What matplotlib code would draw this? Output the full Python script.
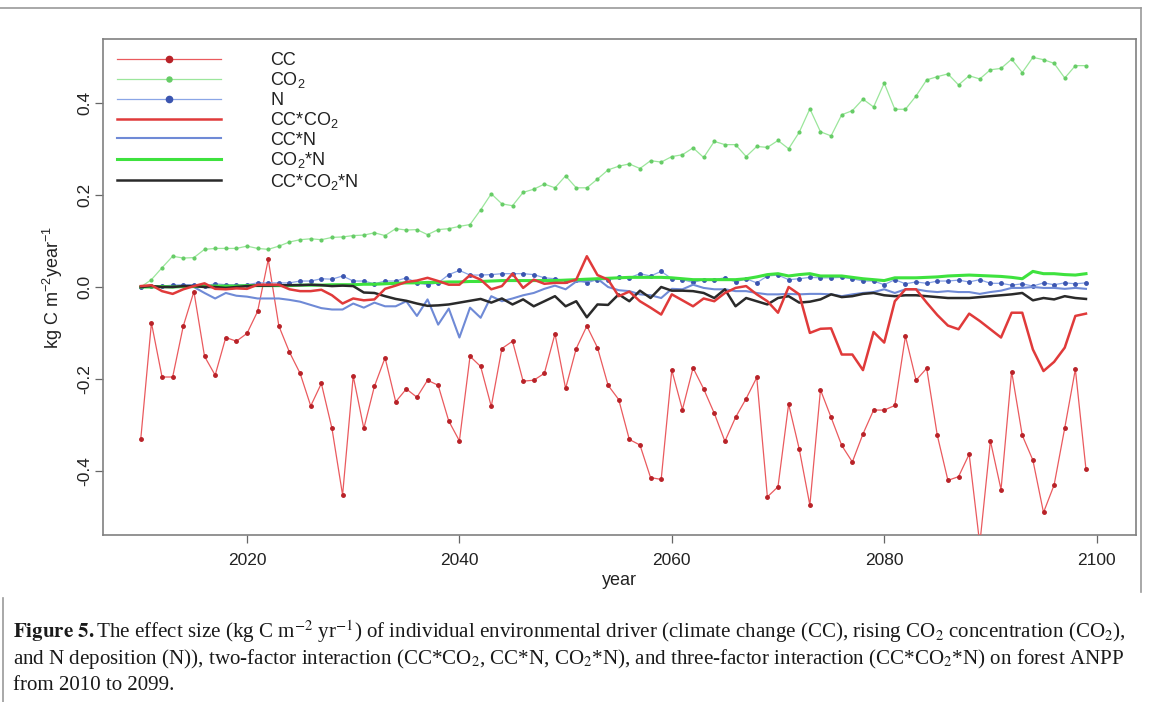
import numpy as np
import matplotlib
matplotlib.use("Agg")
import matplotlib.pyplot as plt
from matplotlib.lines import Line2D

years = list(range(2010, 2100))

cc = [-0.330, -0.078, -0.196, -0.196, -0.085, -0.010, -0.151, -0.192, -0.110, -0.118,
      -0.101, -0.053, 0.060, -0.085, -0.142, -0.188, -0.259, -0.210, -0.308, -0.453,
      -0.194, -0.308, -0.216, -0.154, -0.250, -0.222, -0.240, -0.203, -0.214, -0.292,
      -0.335, -0.151, -0.173, -0.260, -0.134, -0.118, -0.205, -0.203, -0.188, -0.102,
      -0.221, -0.134, -0.085, -0.132, -0.214, -0.245, -0.332, -0.344, -0.415, -0.419,
      -0.181, -0.267, -0.176, -0.222, -0.275, -0.336, -0.284, -0.243, -0.197, -0.457,
      -0.435, -0.255, -0.353, -0.475, -0.224, -0.284, -0.345, -0.381, -0.320, -0.268,
      -0.268, -0.258, -0.107, -0.203, -0.177, -0.323, -0.421, -0.413, -0.364, -0.560,
      -0.335, -0.441, -0.184, -0.323, -0.377, -0.491, -0.431, -0.307, -0.179, -0.397]

co2 = [0.000, 0.016, 0.042, 0.067, 0.063, 0.064, 0.082, 0.084, 0.084, 0.084,
       0.089, 0.084, 0.082, 0.089, 0.098, 0.103, 0.105, 0.103, 0.108, 0.109,
       0.112, 0.113, 0.118, 0.112, 0.127, 0.124, 0.125, 0.114, 0.125, 0.127,
       0.132, 0.136, 0.168, 0.203, 0.181, 0.177, 0.206, 0.213, 0.224, 0.216,
       0.242, 0.216, 0.216, 0.235, 0.255, 0.263, 0.268, 0.258, 0.275, 0.272,
       0.284, 0.288, 0.303, 0.282, 0.317, 0.310, 0.310, 0.284, 0.306, 0.304,
       0.319, 0.301, 0.337, 0.388, 0.338, 0.329, 0.375, 0.384, 0.409, 0.392,
       0.444, 0.387, 0.387, 0.416, 0.451, 0.458, 0.464, 0.440, 0.460, 0.453,
       0.473, 0.476, 0.496, 0.467, 0.500, 0.495, 0.487, 0.455, 0.482, 0.482]

n_dep = [0.000, 0.002, 0.002, 0.004, 0.005, 0.005, 0.002, 0.007, 0.005, 0.005,
         0.005, 0.009, 0.009, 0.009, 0.009, 0.013, 0.013, 0.018, 0.017, 0.024,
         0.013, 0.013, 0.007, 0.013, 0.013, 0.020, 0.009, 0.005, 0.009, 0.027,
         0.036, 0.026, 0.026, 0.027, 0.029, 0.029, 0.029, 0.027, 0.020, 0.018,
         0.014, 0.015, 0.009, 0.016, 0.016, 0.021, 0.020, 0.029, 0.024, 0.034,
         0.018, 0.016, 0.010, 0.016, 0.016, 0.020, 0.011, 0.018, 0.009, 0.024,
         0.026, 0.016, 0.018, 0.021, 0.020, 0.020, 0.021, 0.018, 0.013, 0.013,
         0.005, 0.016, 0.007, 0.011, 0.008, 0.013, 0.013, 0.015, 0.011, 0.016,
         0.008, 0.008, 0.004, 0.007, 0.002, 0.009, 0.005, 0.009, 0.007, 0.009]

cc_co2 = [0.002, 0.004, -0.009, -0.015, -0.005, 0.002, 0.008, -0.004, -0.005, -0.003,
          -0.004, 0.005, 0.005, 0.005, -0.005, -0.009, -0.009, -0.006, -0.018, -0.036,
          -0.025, -0.029, -0.027, -0.004, 0.003, 0.011, 0.014, 0.020, 0.013, 0.005,
          0.005, 0.026, 0.016, -0.005, 0.002, 0.029, -0.002, 0.016, 0.007, 0.009,
          0.009, 0.016, 0.067, 0.026, 0.016, -0.020, -0.010, -0.031, -0.045, -0.060,
          -0.016, -0.029, -0.042, -0.025, -0.031, -0.013, -0.002, 0.002, -0.016, -0.031,
          -0.056, 0.000, -0.016, -0.100, -0.091, -0.090, -0.147, -0.147, -0.181, -0.098,
          -0.121, -0.031, -0.005, -0.005, -0.034, -0.061, -0.084, -0.092, -0.058, -0.074,
          -0.092, -0.110, -0.056, -0.056, -0.136, -0.183, -0.163, -0.132, -0.063, -0.058]

cc_n = [0.000, 0.000, 0.000, 0.000, 0.000, 0.000, -0.013, -0.025, -0.013, -0.019,
        -0.021, -0.025, -0.025, -0.025, -0.028, -0.032, -0.039, -0.046, -0.049, -0.049,
        -0.036, -0.045, -0.034, -0.042, -0.042, -0.031, -0.063, -0.027, -0.082, -0.047,
        -0.110, -0.045, -0.067, -0.020, -0.031, -0.025, -0.018, -0.013, -0.004, 0.003,
        -0.005, 0.012, 0.013, 0.018, 0.000, -0.007, -0.009, -0.016, -0.018, -0.024,
        -0.004, -0.005, 0.005, -0.002, -0.005, -0.005, -0.009, -0.009, -0.013, -0.016,
        -0.016, -0.015, -0.016, -0.015, -0.015, -0.016, -0.020, -0.016, -0.013, -0.011,
        -0.005, -0.013, -0.005, -0.005, -0.009, -0.011, -0.009, -0.011, -0.011, -0.015,
        -0.011, -0.008, -0.002, -0.002, 0.000, -0.002, -0.002, -0.004, -0.002, -0.004]

co2_n = [0.000, 0.000, 0.001, 0.000, 0.001, 0.001, 0.002, 0.002, 0.002, 0.002,
         0.003, 0.003, 0.003, 0.003, 0.003, 0.004, 0.004, 0.004, 0.005, 0.005,
         0.005, 0.006, 0.006, 0.007, 0.008, 0.009, 0.009, 0.010, 0.010, 0.011,
         0.011, 0.012, 0.012, 0.013, 0.014, 0.014, 0.014, 0.014, 0.014, 0.014,
         0.015, 0.016, 0.017, 0.018, 0.019, 0.020, 0.021, 0.021, 0.021, 0.021,
         0.020, 0.018, 0.016, 0.016, 0.016, 0.016, 0.016, 0.018, 0.022, 0.027,
         0.029, 0.024, 0.027, 0.029, 0.024, 0.024, 0.024, 0.021, 0.018, 0.016,
         0.014, 0.020, 0.020, 0.020, 0.021, 0.022, 0.024, 0.025, 0.026, 0.025,
         0.024, 0.023, 0.021, 0.018, 0.034, 0.029, 0.029, 0.027, 0.026, 0.029]

cc_co2_n = [0.000, 0.002, 0.000, 0.000, 0.002, 0.002, 0.000, 0.000, -0.002, 0.000,
            0.002, 0.003, 0.003, 0.004, 0.004, 0.004, 0.005, 0.004, 0.002, 0.003,
            0.002, -0.012, -0.013, -0.020, -0.026, -0.030, -0.036, -0.041, -0.040, -0.038,
            -0.034, -0.030, -0.026, -0.034, -0.025, -0.038, -0.027, -0.042, -0.031, -0.020,
            -0.042, -0.031, -0.066, -0.038, -0.039, -0.016, -0.031, -0.008, -0.024, 0.000,
            -0.008, -0.008, -0.009, -0.013, -0.024, -0.005, -0.042, -0.024, -0.031, -0.038,
            -0.024, -0.020, -0.034, -0.032, -0.027, -0.016, -0.022, -0.020, -0.015, -0.013,
            -0.018, -0.020, -0.018, -0.018, -0.020, -0.022, -0.024, -0.024, -0.024, -0.022,
            -0.020, -0.018, -0.016, -0.013, -0.029, -0.024, -0.027, -0.020, -0.024, -0.026]

labels = ["CC", "CO$_2$", "N", "CC*CO$_2$", "CC*N", "CO$_2$*N", "CC*CO$_2$*N"]
x_ticks = [2020, 2040, 2060, 2080, 2100]
y_ticks = [-0.4, -0.2, 0.0, 0.2, 0.4]
y_tick_labels = ["-0.4", "-0.2", "0.0", "0.2", "0.4"]

plt.rcParams['font.family'] = ['Liberation Sans', 'DejaVu Sans']
plt.rcParams['mathtext.fontset'] = 'custom'
plt.rcParams['mathtext.rm'] = 'Liberation Sans'
plt.rcParams['mathtext.it'] = 'Liberation Sans:italic'
plt.rcParams['mathtext.bf'] = 'Liberation Sans:bold'

W, H = 1153, 702
fig = plt.figure(figsize=(W / 100, H / 100), dpi=100)
ax = fig.add_axes([103 / W, 1 - 535 / H, (1136 - 103) / W, (535 - 39) / H])

ax.plot(years, cc, color='#ea5a5e', lw=0.9, marker='o', ms=2.5,
        mfc='#b82228', mec='#b82228', label=labels[0], zorder=3)
ax.plot(years, co2, color='#9be69b', lw=0.9, marker='o', ms=2.0,
        mfc='#66cc66', mec='#66cc66', label=labels[1], zorder=3)
ax.plot(years, n_dep, color='#8aa5e6', lw=0.9, marker='o', ms=2.5,
        mfc='#3b55b0', mec='#3b55b0', label=labels[2], zorder=4)
ax.plot(years, cc_co2, color='#e03a3a', lw=1.8, label=labels[3], zorder=5)
ax.plot(years, cc_n, color='#6f8ad6', lw=1.5, label=labels[4], zorder=4)
ax.plot(years, co2_n, color='#3ee23e', lw=2.2, label=labels[5], zorder=4)
ax.plot(years, cc_co2_n, color='#2a2a2a', lw=1.8, label=labels[6], zorder=4)

ax.set_xlim(2006.44, 2103.71)
ax.set_ylim(-0.54, 0.54)

ax.set_xticks(x_ticks)
ax.set_yticks(y_ticks)
ax.set_yticklabels(y_tick_labels, rotation=90, va='center')
ax.tick_params(axis='both', direction='out', length=6, width=0.9,
               color='#666666', labelsize=12.5, labelcolor='#222222')
ax.tick_params(axis='x', pad=7)
ax.tick_params(axis='y', pad=1.5)
for s in ax.spines.values():
    s.set_color('#808080')
    s.set_linewidth(1.2)

ax.set_xlabel('year', fontsize=13, color='#222222', labelpad=3)
ax.set_ylabel('kg C m$^{-2}$year$^{-1}$', fontsize=13, color='#222222', labelpad=9)

leg = ax.legend(loc='upper left', bbox_to_anchor=(117 / W, 1 - 52 / H),
                bbox_transform=fig.transFigure, frameon=False, fontsize=13,
                handlelength=5.75, handletextpad=2.75, labelspacing=0.08,
                borderpad=0, borderaxespad=0, markerscale=1.8)
for t in leg.get_texts():
    t.set_color('#222222')

# page borders
fig.add_artist(Line2D([0, 1141 / W], [1 - 8 / H, 1 - 8 / H], transform=fig.transFigure,
                      color='#9a9a9a', lw=1.2))
fig.add_artist(Line2D([1141 / W, 1141 / W], [1 - 8 / H, 1 - 592 / H], transform=fig.transFigure,
                      color='#9a9a9a', lw=1.2))
fig.add_artist(Line2D([3 / W, 3 / W], [1 - 598 / H, 0], transform=fig.transFigure,
                      color='#9a9a9a', lw=1.2))

cap_kw = dict(fontsize=15.1, family='Liberation Serif', math_fontfamily='stix',
              color='#1a1a1a', ha='left', va='baseline')
line1 = (r"$\mathbf{Figure\ 5.}$The effect size (kg C m$^{-2}$ yr$^{-1}$) of individual environmental driver "
         r"(climate change (CC), rising CO$_2$ concentration (CO$_2$),")
line2 = (r"and N deposition (N)), two-factor interaction (CC*CO$_2$, CC*N, CO$_2$*N), "
         r"and three-factor interaction (CC*CO$_2$*N) on forest ANPP")
line3 = "from 2010 to 2099."
fig.text(13 / W, 1 - 638 / H, line1, **cap_kw)
fig.text(13 / W, 1 - 664 / H, line2, **cap_kw)
fig.text(13 / W, 1 - 690 / H, line3, **cap_kw)

fig.savefig('out.png', dpi=100)
